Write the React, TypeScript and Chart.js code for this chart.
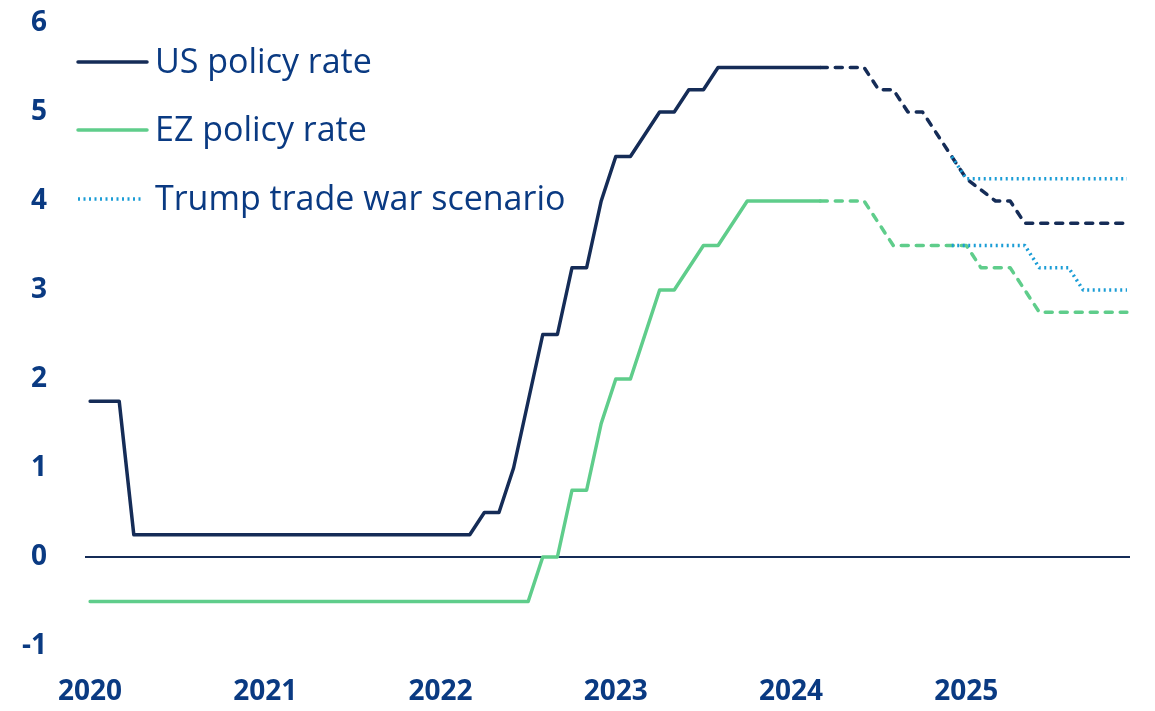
import { useEffect, useRef } from 'react';
import { Chart, registerables } from 'chart.js';

Chart.register(...registerables);

// ---------- data ----------
const YEARS = ['2020', '2021', '2022', '2023', '2024', '2025'];
const MONTHS = ['Jan', 'Feb', 'Mar', 'Apr', 'May', 'Jun', 'Jul', 'Aug', 'Sep', 'Oct', 'Nov', 'Dec'];
const CATEGORIES: string[] = YEARS.flatMap((y) => MONTHS.map((m) => `${m} ${y}`));

const Y_TICKS = [-1, 0, 1, 2, 3, 4, 5, 6];

// US policy rate, actual (Jan 2020 .. Mar 2024)
const US_ACTUAL = [
  1.75, 1.75, 1.75,
  0.25, 0.25, 0.25, 0.25, 0.25, 0.25, 0.25, 0.25, 0.25, 0.25, 0.25, 0.25,
  0.25, 0.25, 0.25, 0.25, 0.25, 0.25, 0.25, 0.25, 0.25, 0.25, 0.25, 0.25,
  0.5, 0.5, 1.0, 1.75, 2.5, 2.5, 3.25, 3.25, 4.0, 4.5, 4.5, 4.75, 5.0, 5.0, 5.25, 5.25,
  5.5, 5.5, 5.5, 5.5, 5.5, 5.5, 5.5, 5.5,
];
// US policy rate, forecast (Mar 2024 .. Dec 2025)
const US_FORECAST = [
  5.5, 5.5, 5.5, 5.5, 5.25, 5.25, 5.0, 5.0, 4.75, 4.5, 4.25, 4.125, 4.0, 4.0,
  3.75, 3.75, 3.75, 3.75, 3.75, 3.75, 3.75, 3.75,
];
// EZ policy rate, actual (Jan 2020 .. Mar 2024)
const EZ_ACTUAL = [
  -0.5, -0.5, -0.5, -0.5, -0.5, -0.5, -0.5, -0.5, -0.5, -0.5, -0.5, -0.5,
  -0.5, -0.5, -0.5, -0.5, -0.5, -0.5, -0.5, -0.5, -0.5, -0.5, -0.5, -0.5,
  -0.5, -0.5, -0.5, -0.5, -0.5, -0.5, -0.5,
  0, 0, 0.75, 0.75, 1.5, 2.0, 2.0, 2.5, 3.0, 3.0, 3.25, 3.5, 3.5, 3.75,
  4.0, 4.0, 4.0, 4.0, 4.0, 4.0,
];
// EZ policy rate, forecast (Mar 2024 .. Dec 2025)
const EZ_FORECAST = [
  4.0, 4.0, 4.0, 4.0, 3.75, 3.5, 3.5, 3.5, 3.5, 3.5, 3.5, 3.25, 3.25, 3.25, 3.0,
  2.75, 2.75, 2.75, 2.75, 2.75, 2.75, 2.75,
];
// Trump trade war scenario (Dec 2024 .. Dec 2025)
const TRUMP_US = [4.5, 4.25, 4.25, 4.25, 4.25, 4.25, 4.25, 4.25, 4.25, 4.25, 4.25, 4.25, 4.25];
const TRUMP_EZ = [3.5, 3.5, 3.5, 3.5, 3.5, 3.5, 3.25, 3.25, 3.25, 3.0, 3.0, 3.0, 3.0];

const FORECAST_START = 'Mar 2024';
const SCENARIO_START = 'Dec 2024';

const LEGEND_LABELS = ['US policy rate', 'EZ policy rate', 'Trump trade war scenario'];

// ---------- styles ----------
const NAVY = '#152c57';
const GREEN = '#5fcd8b';
const LIGHT_BLUE = '#1b9dd6';
const TEXT = '#0a3a82';
const FONT = "'Open Sans', 'Noto Sans', sans-serif";
const LINE_W = 3.5;
const DASH = [7, 8];
const DOT = [2, 3.5];

function place(values: number[], startLabel: string): (number | null)[] {
  const start = CATEGORIES.indexOf(startLabel);
  return CATEGORIES.map((_, i) => (i >= start && i - start < values.length ? values[i - start] : null));
}

const zeroLinePlugin = {
  id: 'zeroLine',
  beforeDatasetsDraw(chart: any) {
    const { ctx, chartArea, scales } = chart;
    const y = scales.y.getPixelForValue(0);
    ctx.save();
    ctx.strokeStyle = NAVY;
    ctx.lineWidth = 2;
    ctx.beginPath();
    ctx.moveTo(chartArea.left - 5, y);
    ctx.lineTo(chartArea.right + 3, y);
    ctx.stroke();
    ctx.restore();
  },
};

const legendPlugin = {
  id: 'customLegend',
  afterDraw(chart: any) {
    const { ctx } = chart;
    const items = [
      { label: LEGEND_LABELS[0], color: NAVY, dash: [] as number[], cap: 'round', y: 54 },
      { label: LEGEND_LABELS[1], color: GREEN, dash: [] as number[], cap: 'round', y: 122 },
      { label: LEGEND_LABELS[2], color: LIGHT_BLUE, dash: DOT, cap: 'butt', y: 191 },
    ];
    ctx.save();
    for (const it of items) {
      ctx.strokeStyle = it.color;
      ctx.lineWidth = LINE_W;
      ctx.lineCap = it.cap;
      ctx.setLineDash(it.dash);
      ctx.beginPath();
      ctx.moveTo(70, it.y);
      ctx.lineTo(it.dash.length ? 136 : 139, it.y);
      ctx.stroke();
      ctx.setLineDash([]);
      ctx.fillStyle = TEXT;
      ctx.font = `500 34px ${FONT}`;
      ctx.textAlign = 'left';
      ctx.textBaseline = 'middle';
      ctx.fillText(it.label, 147, it.y + 1);
    }
    ctx.restore();
  },
};

export default function App() {
  const canvasRef = useRef<HTMLCanvasElement | null>(null);

  useEffect(() => {
    if (!canvasRef.current) return;
    const line = (data: (number | null)[], color: string, dash: number[], cap: string) => ({
      data,
      borderColor: color,
      backgroundColor: color,
      borderWidth: LINE_W,
      borderDash: dash,
      borderCapStyle: cap,
      borderJoinStyle: 'round',
      pointRadius: 0,
      pointHoverRadius: 0,
      tension: 0,
      fill: false,
      spanGaps: false,
    });

    const chart = new Chart(canvasRef.current, {
      type: 'line',
      data: {
        labels: CATEGORIES,
        datasets: [
          { label: LEGEND_LABELS[2] + ' (US)', ...line(place(TRUMP_US, SCENARIO_START), LIGHT_BLUE, DOT, 'butt') },
          { label: LEGEND_LABELS[2] + ' (EZ)', ...line(place(TRUMP_EZ, SCENARIO_START), LIGHT_BLUE, DOT, 'butt') },
          { label: LEGEND_LABELS[0] + ' forecast', ...line(place(US_FORECAST, FORECAST_START), NAVY, DASH, 'round') },
          { label: LEGEND_LABELS[1] + ' forecast', ...line(place(EZ_FORECAST, FORECAST_START), GREEN, DASH, 'round') },
          { label: LEGEND_LABELS[0], ...line(place(US_ACTUAL, 'Jan 2020'), NAVY, [], 'round') },
          { label: LEGEND_LABELS[1], ...line(place(EZ_ACTUAL, 'Jan 2020'), GREEN, [], 'round') },
        ] as any,
      },
      options: {
        responsive: false,
        animation: false,
        layout: { padding: { top: 15, right: 20, left: 0, bottom: 0 } },
        plugins: { legend: { display: false }, tooltip: { enabled: false } },
        scales: {
          x: {
            type: 'category',
            offset: false,
            grid: { display: false, drawTicks: false },
            border: { display: false },
            ticks: {
              autoSkip: false,
              maxRotation: 0,
              minRotation: 0,
              padding: 32,
              color: TEXT,
              font: { family: FONT, size: 28, weight: 'bold', lineHeight: 1 },
              callback: (_v: any, i: number) => (i % 12 === 0 ? YEARS[i / 12] : ''),
            },
            afterFit: (s: any) => {
              s.height = 57;
              s.paddingLeft = 0;
              s.paddingRight = 0;
            },
          },
          y: {
            min: Y_TICKS[0],
            max: Y_TICKS[Y_TICKS.length - 1],
            grid: { display: false, drawTicks: false },
            border: { display: false },
            afterBuildTicks: (s: any) => {
              s.ticks = Y_TICKS.map((v) => ({ value: v }));
            },
            ticks: {
              padding: 43,
              color: TEXT,
              font: { family: FONT, size: 28, weight: 'bold', lineHeight: 1 },
              callback: (v: any) => String(v),
            },
            afterFit: (s: any) => {
              s.width = 82;
              s.paddingTop = 0;
              s.paddingBottom = 0;
            },
          },
        },
      },
      plugins: [zeroLinePlugin, legendPlugin],
    } as any);
    return () => chart.destroy();
  }, []);

  return (
    <canvas
      ref={canvasRef}
      width={1139}
      height={695}
      style={{ display: 'block', width: 1139, height: 695 }}
    />
  );
}
